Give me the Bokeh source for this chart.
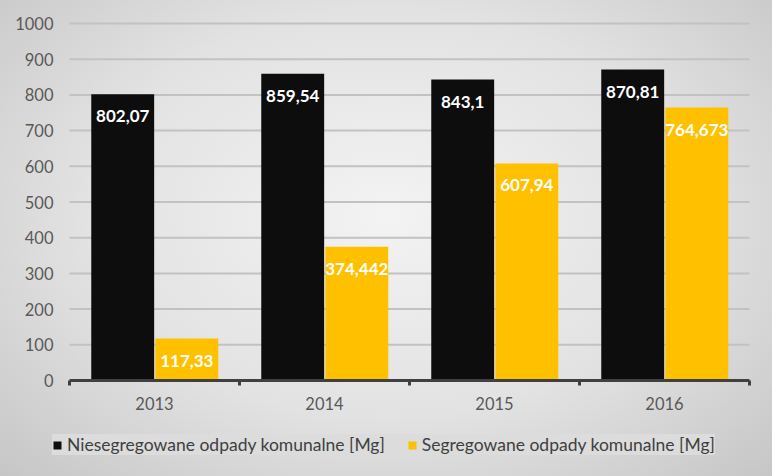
from bokeh.plotting import figure
from bokeh.models import ColumnDataSource, Range1d, Legend, LegendItem
from bokeh.transform import dodge
from bokeh.core.properties import value
from bokeh.embed import file_html
from bokeh.resources import INLINE

years = ["2013", "2014", "2015", "2016"]
niesegregowane = [802.07, 859.54, 843.1, 870.81]
segregowane = [117.33, 374.442, 607.94, 764.673]
series_names = ["Niesegregowane odpady komunalne [Mg]", "Segregowane odpady komunalne [Mg]"]
y_ticks = [0, 100, 200, 300, 400, 500, 600, 700, 800, 900, 1000]

W, H = 772, 476
# layout (pixels): plot area left/right/top/bottom
PL, PR, PT, PB = 69, 749, 23, 380
ncat = len(years)
ymax = y_ticks[-1]
px_x = (PR - PL) / ncat
px_y = (PB - PT) / ymax

FONT = "Lato"
p = figure(width=W, height=H, output_backend="svg", toolbar_location=None,
           x_axis_location=None, y_axis_location=None,
           x_range=Range1d(-PL / px_x, ncat + (W - PR) / px_x),
           y_range=Range1d(-(H - PB) / px_y, ymax + PT / px_y),
           min_border_left=0, min_border_right=0, min_border_top=0, min_border_bottom=0)
p.styles = {"background-image": "radial-gradient(ellipse at 50% 45%, #F3F3F3 0%, #E2E2E2 55%, #C6C6C6 100%)"}
p.border_fill_color = None
p.background_fill_color = None
p.outline_line_color = None
p.grid.visible = False

xpos = [i + 0.5 for i in range(ncat)]
src = ColumnDataSource(dict(
    x=xpos,
    n=niesegregowane,
    s=segregowane,
    nl=[str(v).replace(".", ",") for v in niesegregowane],
    sl=[str(v).replace(".", ",") for v in segregowane],
))

# gridlines
gsrc = ColumnDataSource(dict(y=y_ticks[1:], x0=[0] * (len(y_ticks) - 1), x1=[ncat] * (len(y_ticks) - 1)))
p.segment(x0="x0", x1="x1", y0="y", y1="y", source=gsrc, line_color="#C2C2C2", line_width=2)

rb = p.vbar(x=dodge("x", -0.187, range=p.x_range), top="n", width=0.37, source=src,
            fill_color="#0D0D0D", line_color=None)
rg = p.vbar(x=dodge("x", 0.19, range=p.x_range), top="s", width=0.37, source=src,
            fill_color="#FFC000", line_color=None)

p.text(x=dodge("x", -0.187, range=p.x_range), y="n", text="nl", source=src, y_offset=22,
       text_align="center", text_baseline="middle", text_color="white",
       text_font=value(FONT), text_font_style="bold", text_font_size="17px")
p.text(x=dodge("x", 0.19, range=p.x_range), y="s", text="sl", source=src, y_offset=22,
       text_align="center", text_baseline="middle", text_color="white",
       text_font=value(FONT), text_font_style="bold", text_font_size="17px")

# x axis line and boundary ticks
bounds = list(range(ncat + 1))
tick_len = 5 / px_y
p.segment(x0=[0], x1=[ncat], y0=[0], y1=[0], line_color="#404040", line_width=3)
p.segment(x0=bounds, x1=bounds, y0=[0] * len(bounds), y1=[-tick_len] * len(bounds),
          line_color="#404040", line_width=3)

# y tick labels
p.text(x=[0] * len(y_ticks), y=y_ticks, text=[str(t) for t in y_ticks], x_offset=-16,
       text_align="right", text_baseline="middle", text_color="#595959",
       text_font=value(FONT), text_font_size="16.5px")
# x tick labels
p.text(x=xpos, y=[0] * ncat, text=years, y_offset=23,
       text_align="center", text_baseline="middle", text_color="#595959",
       text_font=value(FONT), text_font_size="16.5px")

legend = Legend(items=[LegendItem(label=series_names[0], renderers=[rb]),
                       LegendItem(label=series_names[1], renderers=[rg])],
                orientation="horizontal", location=(52, H - 455))
legend.background_fill_color = "#DCDCDC"
legend.background_fill_alpha = 1
legend.border_line_color = None
legend.label_text_font = FONT
legend.label_text_font_size = "17.5px"
legend.label_text_color = "#404040"
legend.glyph_width = 10
legend.glyph_height = 10
legend.label_standoff = 5
legend.label_height = 20
legend.spacing = 22
legend.padding = 8
legend.margin = 0
p.add_layout(legend, "center")

open("out.html", "w").write(file_html(p, INLINE))
